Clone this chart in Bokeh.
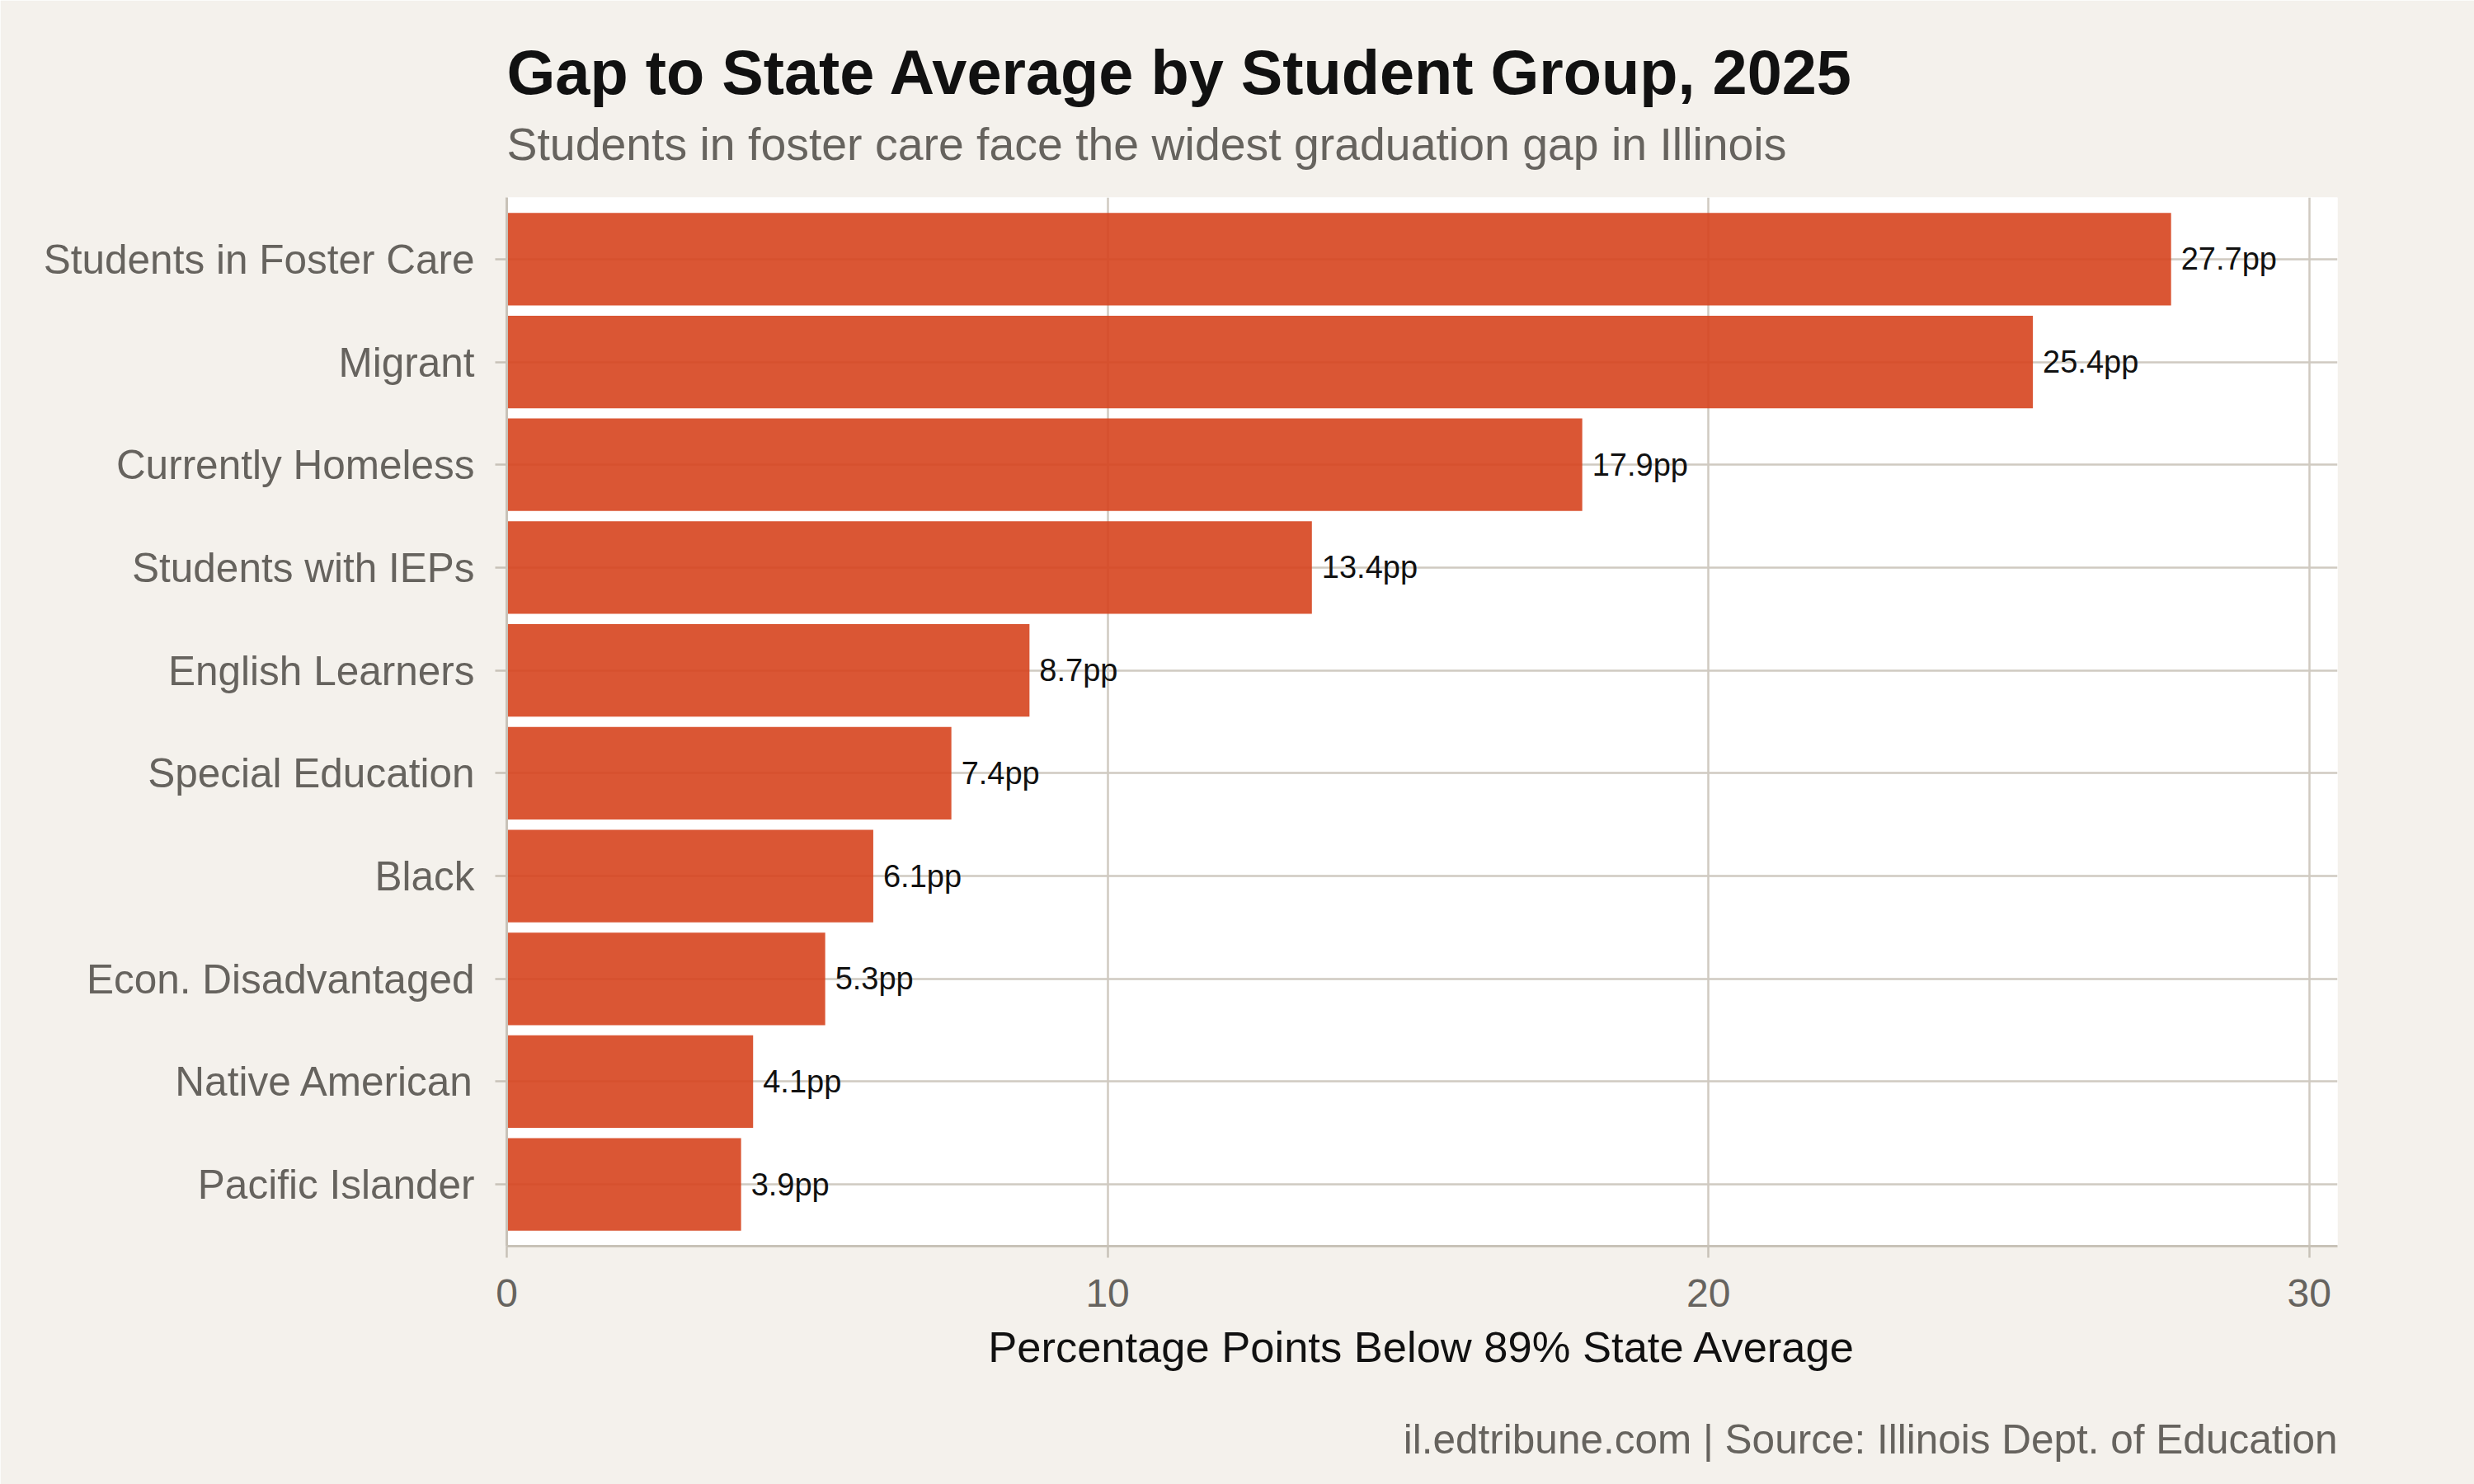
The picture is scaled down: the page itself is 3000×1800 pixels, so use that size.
from bokeh.plotting import figure
from bokeh.models import FactorRange, Range1d, Title, FixedTicker, ColumnDataSource
from bokeh.embed import file_html
from bokeh.resources import INLINE
from bokeh.core.properties import value

# ---- data ----
groups = ["Students in Foster Care", "Migrant", "Currently Homeless", "Students with IEPs",
          "English Learners", "Special Education", "Black", "Econ. Disadvantaged",
          "Native American", "Pacific Islander"]
gaps = [27.7, 25.4, 17.9, 13.4, 8.7, 7.4, 6.1, 5.3, 4.1, 3.9]
labels = [f"{g}pp" for g in gaps]
x_ticks = [0, 10, 20, 30]

title_text = "Gap to State Average by Student Group, 2025"
subtitle_text = "Students in foster care face the widest graduation gap in Illinois"
x_title = "Percentage Points Below 89% State Average"
caption_text = "il.edtribune.com | Source: Illinois Dept. of Education"

# ---- style ----
FONT = "Liberation Sans"
BG = "#F4F1EC"
BAR = "#D6441E"
GRID = "#D0CAC1"
AXIS = "#C8C2B8"
GRAY = "#66635E"
DARK = "#111111"

src = ColumnDataSource(dict(group=groups, gap=gaps, label=labels))
x_end = max(gaps) * 1.1

p = figure(width=3000, height=1800,
           y_range=FactorRange(factors=groups[::-1], range_padding=0.1,
                               range_padding_units="absolute"),
           x_range=Range1d(0, x_end),
           output_backend="svg", toolbar_location=None,
           min_border_left=614, min_border_right=166,
           min_border_top=239, min_border_bottom=289)

p.background_fill_color = "white"
p.border_fill_color = BG
p.outline_line_color = None

p.hbar(y="group", left=0, right="gap", height=0.9, source=src,
       fill_color=BAR, fill_alpha=0.9, line_color=None)
p.text(x="gap", y="group", text="label", source=src, x_offset=12,
       text_align="left", text_baseline="middle",
       text_font=value(FONT), text_font_size="38px", text_color=DARK)

# axes
p.xaxis.ticker = FixedTicker(ticks=x_ticks)
p.axis.axis_line_color = AXIS
p.axis.axis_line_width = 3
p.axis.major_tick_line_color = AXIS
p.axis.major_tick_line_width = 2.5
p.axis.major_tick_out = 14
p.axis.major_tick_in = 0
p.axis.minor_tick_line_color = None
p.axis.major_label_text_font = FONT
p.axis.major_label_text_color = GRAY
p.xaxis.major_label_text_font_size = "48px"
p.yaxis.major_label_text_font_size = "49.5px"
p.yaxis.major_label_standoff = 25
p.xaxis.major_label_standoff = 26
p.xaxis.axis_label = x_title
p.xaxis.axis_label_text_font = FONT
p.xaxis.axis_label_text_font_size = "52.5px"
p.xaxis.axis_label_text_font_style = "normal"
p.xaxis.axis_label_text_color = DARK
p.xaxis.axis_label_standoff = 16

p.grid.grid_line_color = GRID
p.grid.grid_line_width = 2.5

# titles
sub = Title(text=subtitle_text, align="left", text_font=FONT, text_font_size="55.4px",
            text_font_style="normal", text_color=GRAY, standoff=68)
ttl = Title(text=title_text, align="left", text_font=FONT, text_font_size="75.7px",
            text_font_style="bold", text_color=DARK, standoff=-44)
p.add_layout(sub, "above")
p.add_layout(ttl, "above")

# spacer between axis title and caption
spacer = Title(text=" ", text_font_size="2px", standoff=46)
p.add_layout(spacer, "below")
cap = Title(text=caption_text, align="right", text_font=FONT, text_font_size="49.5px",
            text_font_style="normal", text_color=GRAY, standoff=0)
p.add_layout(cap, "below")

open("out.html", "w").write(file_html(p, INLINE))
